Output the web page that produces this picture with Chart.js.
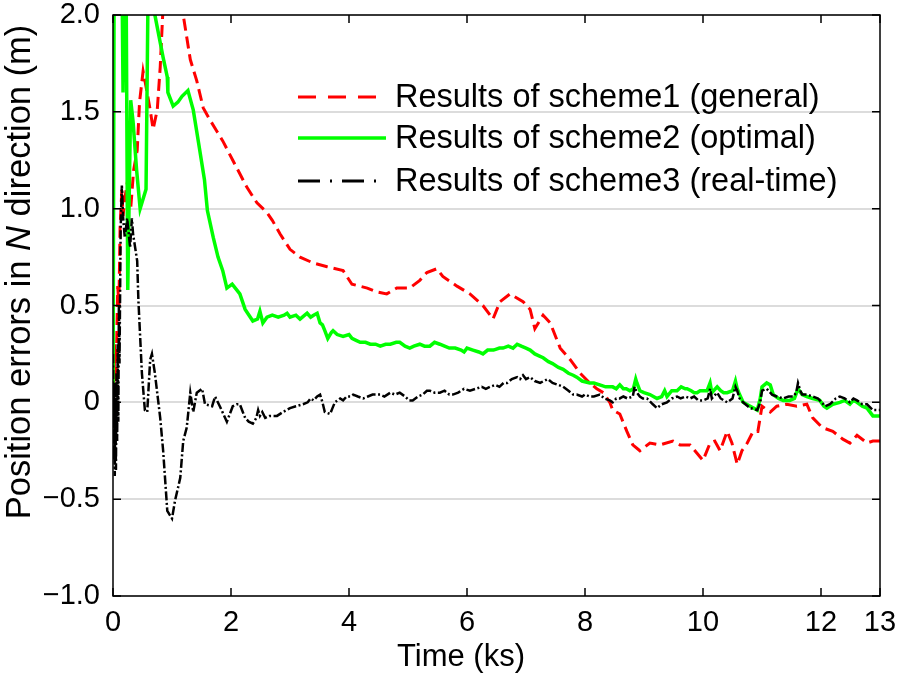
<!DOCTYPE html>
<html>
<head>
<meta charset="utf-8">
<script src="https://cdn.jsdelivr.net/npm/chart.js@4/dist/chart.umd.min.js"></script>
<style>
  body { margin: 0; background: #fff; }
  canvas { display: block; }
</style>
</head>
<body>
<canvas id="errChart" width="898" height="678"></canvas>
<script>
// time (ks) and N-direction position error (m)
var timeS1 = [0, 0.03, 0.05, 0.08, 0.10, 0.12, 0.15, 0.17, 0.20, 0.25, 0.30, 0.35, 0.41, 0.45, 0.51, 0.56, 0.63, 0.68, 0.75, 0.80, 0.85, 1.0, 1.15, 1.19, 1.31, 1.42, 1.53, 1.64, 1.76, 1.86, 2.03, 2.15, 2.27, 2.44, 2.61, 2.70, 2.83, 3.0, 3.17, 3.39, 3.63, 3.90, 4.05, 4.31, 4.47, 4.64, 4.81, 5.03, 5.20, 5.32, 5.49, 5.59, 5.83, 6.05, 6.27, 6.44, 6.56, 6.73, 6.95, 7.07, 7.15, 7.29, 7.41, 7.58, 7.75, 7.92, 8.08, 8.20, 8.31, 8.42, 8.47, 8.59, 8.71, 8.81, 8.93, 9.10, 9.27, 9.49, 9.61, 9.78, 10.0, 10.12, 10.20, 10.29, 10.41, 10.49, 10.58, 10.66, 10.75, 10.85, 10.93, 11.0, 11.14, 11.25, 11.42, 11.59, 11.76, 11.86, 12.02, 12.20, 12.37, 12.49, 12.61, 12.78, 12.88, 13.0];
var errS1 = [-0.13, 0.30, 0.10, 0.60, 0.50, 0.90, 1.10, 0.96, 1.05, 1.15, 1.00, 1.20, 1.30, 1.55, 1.71, 1.63, 1.51, 1.41, 1.51, 1.73, 2.05, 2.30, 2.10, 2.00, 1.77, 1.66, 1.52, 1.46, 1.40, 1.35, 1.25, 1.18, 1.11, 1.03, 0.98, 0.94, 0.87, 0.79, 0.75, 0.72, 0.70, 0.68, 0.61, 0.59, 0.57, 0.56, 0.59, 0.59, 0.63, 0.67, 0.69, 0.65, 0.60, 0.56, 0.50, 0.43, 0.52, 0.56, 0.52, 0.48, 0.38, 0.45, 0.41, 0.28, 0.22, 0.15, 0.10, 0.07, 0.05, 0.00, -0.04, -0.06, -0.15, -0.22, -0.25, -0.21, -0.22, -0.20, -0.22, -0.22, -0.30, -0.21, -0.20, -0.25, -0.15, -0.21, -0.32, -0.25, -0.21, -0.15, -0.15, -0.02, -0.05, -0.02, -0.01, -0.02, -0.01, -0.08, -0.13, -0.15, -0.19, -0.21, -0.17, -0.21, -0.20, -0.20];

var timeS2 = [0, 0.02, 0.15, 0.17, 0.19, 0.22, 0.25, 0.30, 0.34, 0.40, 0.46, 0.52, 0.56, 0.60, 0.70, 0.71, 0.85, 0.92, 0.93, 1.02, 1.10, 1.17, 1.27, 1.36, 1.45, 1.55, 1.60, 1.70, 1.78, 1.86, 1.93, 2.02, 2.15, 2.24, 2.37, 2.45, 2.49, 2.54, 2.61, 2.70, 2.80, 2.90, 2.95, 3.00, 3.10, 3.17, 3.25, 3.29, 3.35, 3.40, 3.46, 3.51, 3.55, 3.59, 3.64, 3.70, 3.73, 3.80, 3.90, 4.00, 4.05, 4.12, 4.19, 4.28, 4.36, 4.45, 4.53, 4.62, 4.70, 4.80, 4.86, 4.95, 5.03, 5.10, 5.20, 5.28, 5.37, 5.45, 5.54, 5.62, 5.70, 5.80, 5.90, 5.95, 6.00, 6.10, 6.20, 6.27, 6.35, 6.45, 6.55, 6.61, 6.70, 6.78, 6.85, 6.92, 7.00, 7.07, 7.15, 7.22, 7.29, 7.38, 7.45, 7.55, 7.63, 7.72, 7.80, 7.86, 7.95, 8.08, 8.15, 8.25, 8.35, 8.42, 8.47, 8.53, 8.59, 8.65, 8.70, 8.76, 8.82, 8.86, 8.88, 8.93, 9.00, 9.10, 9.22, 9.30, 9.35, 9.39, 9.47, 9.56, 9.63, 9.70, 9.73, 9.80, 9.85, 9.90, 9.95, 10.00, 10.07, 10.12, 10.15, 10.24, 10.30, 10.35, 10.41, 10.50, 10.55, 10.58, 10.62, 10.68, 10.80, 10.92, 10.97, 11.00, 11.08, 11.14, 11.19, 11.28, 11.36, 11.47, 11.55, 11.61, 11.68, 11.76, 11.86, 11.98, 12.05, 12.10, 12.20, 12.32, 12.40, 12.49, 12.55, 12.61, 12.70, 12.78, 12.88, 13.0];
var errS2 = [-0.13, 2.30, 2.30, 1.60, 2.30, 2.30, 0.58, 1.56, 1.45, 1.20, 1.00, 1.06, 1.10, 2.30, 2.30, 2.00, 1.78, 1.68, 1.60, 1.53, 1.55, 1.58, 1.61, 1.51, 1.34, 1.15, 0.99, 0.85, 0.75, 0.68, 0.59, 0.61, 0.56, 0.48, 0.42, 0.43, 0.47, 0.41, 0.44, 0.45, 0.44, 0.45, 0.46, 0.44, 0.45, 0.43, 0.45, 0.46, 0.44, 0.45, 0.46, 0.41, 0.40, 0.37, 0.33, 0.36, 0.37, 0.35, 0.34, 0.35, 0.33, 0.32, 0.31, 0.31, 0.30, 0.30, 0.29, 0.30, 0.30, 0.31, 0.31, 0.29, 0.28, 0.29, 0.30, 0.29, 0.29, 0.31, 0.30, 0.29, 0.28, 0.28, 0.27, 0.26, 0.28, 0.27, 0.26, 0.25, 0.27, 0.27, 0.28, 0.28, 0.29, 0.28, 0.30, 0.29, 0.28, 0.27, 0.25, 0.24, 0.23, 0.21, 0.20, 0.18, 0.17, 0.15, 0.14, 0.13, 0.11, 0.10, 0.10, 0.09, 0.08, 0.08, 0.08, 0.07, 0.09, 0.07, 0.07, 0.06, 0.07, 0.12, 0.10, 0.06, 0.05, 0.04, 0.02, 0.03, 0.06, 0.03, 0.06, 0.06, 0.08, 0.07, 0.07, 0.06, 0.05, 0.05, 0.06, 0.06, 0.06, 0.10, 0.05, 0.08, 0.06, 0.05, 0.05, 0.06, 0.11, 0.07, 0.04, 0.00, -0.02, -0.04, 0.02, 0.08, 0.10, 0.09, 0.04, 0.02, 0.01, 0.01, 0.02, 0.07, 0.04, 0.03, 0.02, 0.01, -0.02, -0.03, -0.01, 0.00, 0.01, -0.01, 0.01, 0.00, -0.02, -0.03, -0.07, -0.07];

var timeS3 = [0, 0.01, 0.02, 0.03, 0.04, 0.05, 0.06, 0.07, 0.08, 0.09, 0.10, 0.11, 0.13, 0.15, 0.17, 0.20, 0.24, 0.29, 0.32, 0.34, 0.41, 0.43, 0.49, 0.54, 0.58, 0.63, 0.66, 0.71, 0.80, 0.85, 0.92, 1.0, 1.05, 1.14, 1.19, 1.25, 1.31, 1.36, 1.42, 1.51, 1.56, 1.68, 1.73, 1.81, 1.93, 2.03, 2.10, 2.15, 2.20, 2.24, 2.30, 2.37, 2.43, 2.46, 2.49, 2.53, 2.58, 2.65, 2.78, 2.88, 3.00, 3.10, 3.22, 3.30, 3.35, 3.40, 3.46, 3.51, 3.55, 3.59, 3.68, 3.72, 3.76, 3.85, 3.90, 3.96, 4.02, 4.07, 4.15, 4.24, 4.32, 4.40, 4.53, 4.60, 4.70, 4.78, 4.86, 4.95, 5.02, 5.08, 5.17, 5.25, 5.32, 5.37, 5.45, 5.54, 5.62, 5.70, 5.76, 5.85, 5.95, 6.05, 6.15, 6.25, 6.32, 6.39, 6.48, 6.55, 6.62, 6.68, 6.76, 6.85, 6.90, 6.95, 7.00, 7.07, 7.15, 7.24, 7.30, 7.37, 7.45, 7.55, 7.63, 7.72, 7.80, 7.86, 7.95, 8.00, 8.08, 8.15, 8.25, 8.33, 8.42, 8.47, 8.53, 8.59, 8.65, 8.72, 8.81, 8.84, 8.88, 8.93, 8.98, 9.05, 9.15, 9.22, 9.30, 9.39, 9.47, 9.56, 9.62, 9.70, 9.78, 9.85, 9.92, 10.00, 10.08, 10.12, 10.15, 10.24, 10.30, 10.41, 10.50, 10.55, 10.58, 10.62, 10.68, 10.80, 10.92, 10.97, 11.00, 11.08, 11.17, 11.25, 11.36, 11.45, 11.53, 11.58, 11.61, 11.65, 11.68, 11.76, 11.86, 11.95, 12.07, 12.15, 12.25, 12.32, 12.40, 12.49, 12.55, 12.61, 12.70, 12.78, 12.88, 13.0];
var errS3 = [0.25, -0.30, 0.10, -0.38, 0.00, -0.35, 0.15, -0.20, 0.30, -0.10, 0.50, 0.20, 0.90, 1.12, 0.96, 0.85, 0.95, 0.80, 0.95, 0.87, 0.73, 0.53, 0.15, -0.04, -0.05, 0.22, 0.25, 0.15, -0.08, -0.25, -0.56, -0.60, -0.51, -0.39, -0.20, -0.13, 0.05, -0.05, 0.05, 0.07, -0.01, -0.02, 0.03, -0.02, -0.10, -0.02, -0.01, -0.01, -0.05, -0.08, -0.10, -0.11, -0.08, -0.04, -0.07, -0.05, -0.08, -0.07, -0.07, -0.05, -0.03, -0.02, -0.01, 0.00, 0.02, 0.01, 0.03, 0.04, 0.00, -0.05, -0.06, -0.03, 0.00, 0.02, 0.01, 0.03, 0.03, 0.04, 0.03, 0.02, 0.03, 0.04, 0.04, 0.03, 0.05, 0.04, 0.05, 0.03, 0.01, 0.01, 0.03, 0.04, 0.06, 0.06, 0.05, 0.05, 0.06, 0.04, 0.04, 0.05, 0.07, 0.06, 0.07, 0.08, 0.07, 0.08, 0.09, 0.08, 0.10, 0.10, 0.12, 0.13, 0.12, 0.14, 0.12, 0.13, 0.11, 0.10, 0.11, 0.12, 0.10, 0.09, 0.08, 0.06, 0.04, 0.04, 0.03, 0.04, 0.03, 0.03, 0.04, 0.02, 0.01, 0.00, 0.02, 0.02, 0.03, 0.02, 0.03, 0.08, 0.05, 0.03, 0.02, 0.02, -0.01, -0.03, -0.01, 0.00, 0.02, 0.03, 0.02, 0.03, 0.02, 0.03, 0.01, 0.01, 0.02, 0.07, 0.02, 0.05, 0.02, 0.00, 0.02, 0.08, 0.06, 0.02, 0.00, -0.03, -0.04, 0.00, 0.06, 0.07, 0.04, 0.03, 0.02, 0.03, 0.03, 0.05, 0.10, 0.06, 0.04, 0.04, 0.03, 0.02, -0.02, -0.01, 0.02, 0.03, 0.02, 0.00, 0.02, 0.01, -0.01, -0.01, -0.04, -0.04];

var seriesNames = ['Results of scheme1 (general)', 'Results of scheme2 (optimal)', 'Results of scheme3 (real-time)'];
var xTickValues = [0, 2, 4, 6, 8, 10, 12, 13];

var FONT = '"Liberation Sans", Arial, sans-serif';

function toPoints(xs, ys) {
    return xs.map(function(x, i) { return { x: x, y: ys[i] }; });
}

function fmtY(v) {
    if (Math.abs(v) < 1e-9) return '0';
    var s = Math.abs(v).toFixed(1);
    return v < 0 ? '\u2212' + s : s;
}

// box, inward ticks on all four sides, titles and legend
var framePlugin = {
    id: 'frame',
    afterDatasetsDraw: function(chart) {
        var ctx = chart.ctx, a = chart.chartArea;
        var xs = chart.scales.x, ys = chart.scales.y;
        var tl = 8;
        ctx.save();
        ctx.strokeStyle = '#000';
        ctx.lineWidth = 1.5;
        ctx.strokeRect(a.left, a.top, a.right - a.left, a.bottom - a.top);
        ctx.beginPath();
        xTickValues.forEach(function(v) {
            var px = xs.getPixelForValue(v);
            ctx.moveTo(px, a.bottom); ctx.lineTo(px, a.bottom - tl);
            ctx.moveTo(px, a.top); ctx.lineTo(px, a.top + tl);
        });
        ys.ticks.forEach(function(t) {
            var py = ys.getPixelForValue(t.value);
            ctx.moveTo(a.left, py); ctx.lineTo(a.left + tl, py);
            ctx.moveTo(a.right, py); ctx.lineTo(a.right - tl, py);
        });
        ctx.stroke();
        ctx.restore();
    },
    afterDraw: function(chart) {
        var ctx = chart.ctx;
        ctx.save();
        ctx.fillStyle = '#000';

        // x title
        ctx.font = '31px ' + FONT;
        ctx.textAlign = 'center';
        ctx.textBaseline = 'middle';
        ctx.fillText('Time (ks)', 461, 657);

        // y title, with italic N
        var parts = [['Position errors in ', 'normal'], ['N', 'italic'], [' direction (m)', 'normal']];
        ctx.translate(20, 272);
        ctx.rotate(-Math.PI / 2);
        var total = 0;
        parts.forEach(function(p) {
            ctx.font = p[1] + ' 34.5px ' + FONT;
            total += ctx.measureText(p[0]).width;
        });
        var x = -total / 2;
        ctx.textAlign = 'left';
        parts.forEach(function(p) {
            ctx.font = p[1] + ' 34.5px ' + FONT;
            ctx.fillText(p[0], x, 0);
            x += ctx.measureText(p[0]).width;
        });
        ctx.restore();

        // legend
        ctx.save();
        var rows = [97, 138, 181];
        var styles = [
            { color: '#ff0000', dash: [18, 12], width: 3 },
            { color: '#00ff00', dash: [], width: 3.5 },
            { color: '#000000', dash: [22, 10, 2, 10], width: 3 }
        ];
        ctx.font = '32.5px ' + FONT;
        ctx.textBaseline = 'middle';
        ctx.textAlign = 'left';
        rows.forEach(function(y, i) {
            ctx.beginPath();
            ctx.strokeStyle = styles[i].color;
            ctx.lineWidth = styles[i].width;
            ctx.setLineDash(styles[i].dash);
            ctx.moveTo(298, y);
            ctx.lineTo(386, y);
            ctx.stroke();
            ctx.setLineDash([]);
            ctx.fillStyle = '#000';
            ctx.fillText(seriesNames[i], 395, y + 1);
        });
        ctx.restore();
    }
};

function renderChart() {
    var ctx = document.getElementById('errChart').getContext('2d');
    new Chart(ctx, {
        type: 'line',
        data: {
            datasets: [{
                label: seriesNames[0],
                data: toPoints(timeS1, errS1),
                borderColor: '#ff0000',
                borderWidth: 3,
                borderDash: [12, 6],
                order: 3
            }, {
                label: seriesNames[1],
                data: toPoints(timeS2, errS2),
                borderColor: '#00ff00',
                borderWidth: 3.5,
                order: 2
            }, {
                label: seriesNames[2],
                data: toPoints(timeS3, errS3),
                borderColor: '#000000',
                borderWidth: 2.5,
                borderDash: [9, 2.5, 2, 2.5],
                order: 1
            }]
        },
        options: {
            responsive: false,
            animation: false,
            layout: { padding: { top: 15, right: 18, left: 0, bottom: 0 } },
            elements: { point: { radius: 0 }, line: { tension: 0, fill: false } },
            plugins: { legend: { display: false }, tooltip: { enabled: false } },
            scales: {
                x: {
                    type: 'linear',
                    min: 0,
                    max: 13,
                    afterBuildTicks: function(scale) {
                        scale.ticks = xTickValues.map(function(v) { return { value: v }; });
                    },
                    afterFit: function(scale) {
                        scale.height = 82;
                        scale.paddingLeft = 0;
                        scale.paddingRight = 0;
                    },
                    grid: { display: false, drawTicks: false },
                    border: { display: false },
                    ticks: {
                        autoSkip: false,
                        maxRotation: 0,
                        padding: 10,
                        color: '#000',
                        font: { family: FONT, size: 29 },
                        callback: function(v) { return String(v); }
                    }
                },
                y: {
                    min: -1,
                    max: 2,
                    afterFit: function(scale) {
                        scale.width = 113;
                        scale.paddingTop = 0;
                        scale.paddingBottom = 0;
                    },
                    grid: { color: '#dcdcdc', lineWidth: 2, drawTicks: false },
                    border: { display: false },
                    ticks: {
                        stepSize: 0.5,
                        padding: 13,
                        color: '#000',
                        font: { family: FONT, size: 29 },
                        callback: function(v) { return fmtY(v); }
                    }
                }
            }
        },
        plugins: [framePlugin]
    });
}

window.addEventListener('load', function() {
    renderChart();
});
</script>
</body>
</html>
